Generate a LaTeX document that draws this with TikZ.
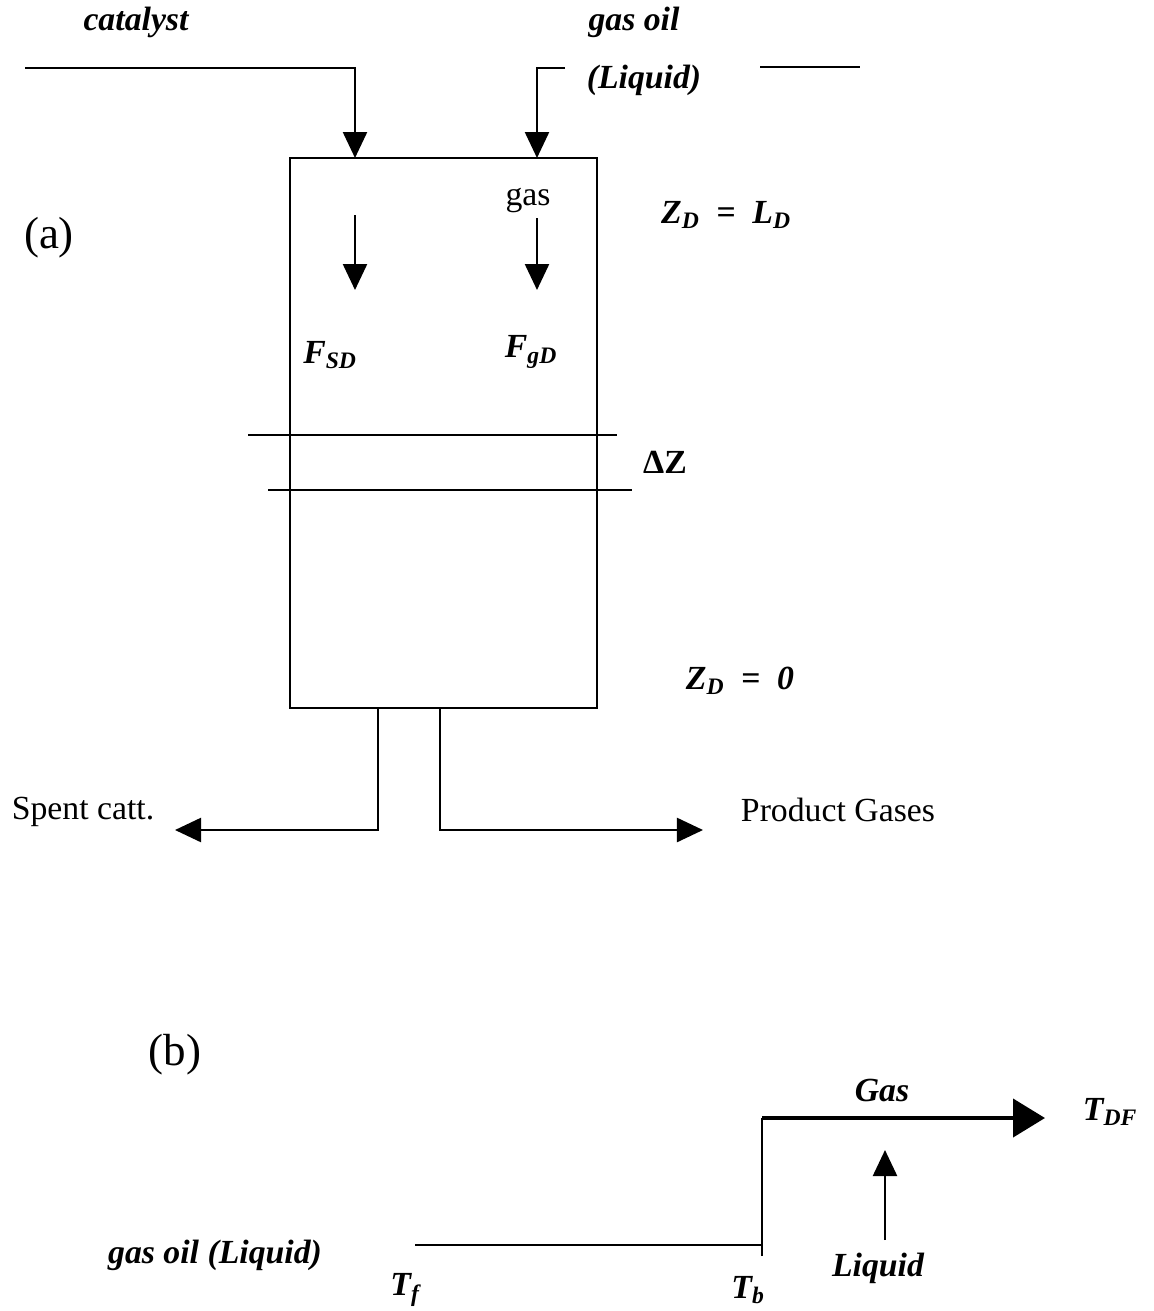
\documentclass[tikz,border=0pt]{standalone}
\usepackage{fontspec}
\setmainfont{Liberation Serif}
\usetikzlibrary{arrows.meta,positioning}

\begin{document}
\begin{tikzpicture}[
    x=0.025cm, y=-0.025cm,
    lbl/.style={font=\fontsize{24}{28}\selectfont\bfseries\itshape, inner sep=0pt},
    txt/.style={font=\fontsize{24}{28}\selectfont, inner sep=0pt},
    tag/.style={font=\fontsize{32}{36}\selectfont, inner sep=0pt},
    pipe/.style={line width=1.7pt},
    slice/.style={line width=1pt},
    flow/.style={line width=1.7pt, -{Triangle[length=0.65cm, width=0.6cm]}},
    bigflow/.style={line width=3pt, -{Triangle[length=0.8cm, width=0.95cm]}}
]
\useasboundingbox (0,0) rectangle (1153,1311);

% (a) riser
\node[draw, line width=1.7pt, minimum width=7.675cm, minimum height=13.75cm, inner sep=0pt] (riser) at (443.5,433) {};
\node[tag] (parta) at (49,238) {(a)};

% Feeds
\coordinate (catin) at (25,68);
\coordinate (cattop) at (355,158);
\coordinate (oilin) at (565,68);
\coordinate (oiltop) at (537,158);
\coordinate (stubL) at (760,67);
\coordinate (stubR) at (860,67);
\node[lbl] (catalyst) at (136,22) {catalyst};
\node[lbl] (gasoil) at (634,22) {gas oil};
\node[lbl] (liquid) at (644,80) {(Liquid)};
\draw[flow] (catin) -| (cattop);
\draw[flow] (oilin) -| (oiltop);
\draw[pipe] (stubL) -- (stubR);

% Flows inside
\coordinate (sdA) at (355,215);
\coordinate (sdB) at (355,290);
\coordinate (gdA) at (537,218);
\coordinate (gdB) at (537,290);
\draw[flow] (sdA) -- (sdB);
\draw[flow] (gdA) -- (gdB);
\node[txt] (gas) at (528,200) {gas};
\node[lbl] (fsd) at (330,355) {F\textsubscript{SD}};
\node[lbl] (fgd) at (531,352) {F\textsubscript{gD}};
\node[lbl] (ztop) at (726,215) {Z\textsubscript{D}\ \ =\ \ L\textsubscript{D}};
\node[lbl] (zbot) at (740,681) {Z\textsubscript{D}\ \ =\ \ 0};

% Slice
\coordinate (sl1A) at (248,435);
\coordinate (sl1B) at (617,435);
\coordinate (sl2A) at (268,490);
\coordinate (sl2B) at (632,490);
\draw[slice] (sl1A) -- (sl1B);
\draw[slice] (sl2A) -- (sl2B);
\node[font=\fontsize{24}{28}\selectfont\bfseries, inner sep=0pt] (dz) at (665,462) {ΔZ};

% Outlets
\coordinate (spentA) at (378,708);
\coordinate (spentB) at (175,830);
\coordinate (prodA) at (440,708);
\coordinate (prodB) at (703,830);
\draw[flow] (spentA) |- (spentB);
\draw[flow] (prodA) |- (prodB);
\node[txt] (spent) at (83,812) {Spent catt.};
\node[txt] (prod) at (838,810) {Product Gases};

% (b) vaporization
\node[tag] (partb) at (175,1055) {(b)};
\coordinate (feedA) at (415,1245);
\coordinate (feedB) at (762,1245);
\coordinate (stepA) at (762,1256);
\coordinate (stepB) at (762,1118);
\coordinate (gasB) at (1045,1118);
\coordinate (liqA) at (885,1240);
\coordinate (liqB) at (885,1150);
\draw[pipe] (feedA) -- (feedB);
\draw[pipe] (stepA) -- (stepB);
\draw[bigflow] (stepB) -- (gasB);
\draw[flow] (liqA) -- (liqB);
\node[lbl] (gasb) at (882,1090) {Gas};
\node[lbl] (tdf) at (1110,1112) {T\textsubscript{DF}};
\node[lbl] (liqb) at (878,1268) {Liquid};
\node[lbl] (oilb) at (215,1255) {gas oil (Liquid)};
\node[lbl] (tf) at (405,1290) {T\textsubscript{f}};
\node[lbl] (tb) at (748,1290) {T\textsubscript{b}};

\end{tikzpicture}
\end{document}
